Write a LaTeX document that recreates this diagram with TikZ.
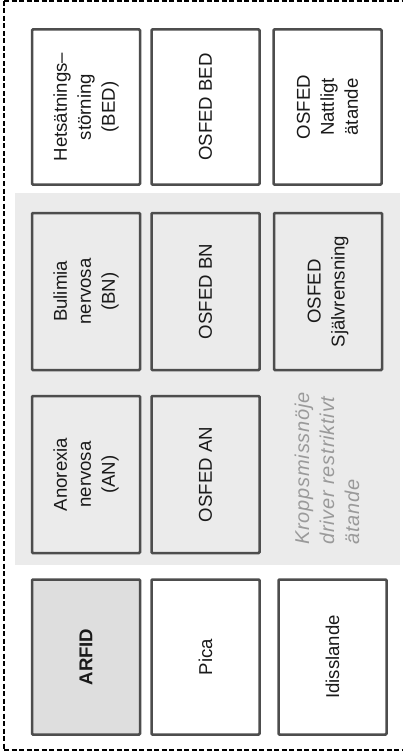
\documentclass[tikz,border=0pt]{standalone}
\usepackage{fontspec}
\setmainfont{Liberation Sans}
\newfontfamily\notefont[LetterSpace=4]{Liberation Sans}
\definecolor{boxline}{HTML}{4D4D4D}
\definecolor{bandgray}{HTML}{EBEBEB}
\definecolor{arfidgray}{HTML}{DEDEDE}
\definecolor{notegray}{HTML}{9A9A9A}
\definecolor{txt}{HTML}{1A1A1A}
\newcommand\mainsize{\fontsize{18.6}{24}\selectfont}
\begin{document}
\begin{tikzpicture}[x=1pt,y=-1pt,
  box/.style={draw=boxline, line width=2.5pt, rounded corners=1pt, rotate=90,
    align=center, inner sep=2pt, text=txt, font=\mainsize,
    minimum width=155pt, minimum height=108pt},
  outerframe/.style={draw=black, line width=1.4pt, dash pattern=on 5pt off 2.5pt},
  band/.style={fill=bandgray, draw=none},
  note/.style={rotate=90, align=left, inner sep=0pt, text=notegray,
    font=\notefont\itshape\fontsize{20}{25}\selectfont}]
\useasboundingbox (0,0) rectangle (405,754);
\coordinate (tl) at (4,1);
\coordinate (bl) at (4,750);
\coordinate (tr) at (403,1);
\coordinate (br) at (403,750);
\draw[outerframe] (tl) -- (tr);
\draw[outerframe] (tl) -- (bl);
\draw[outerframe] (bl) -- (br);
\fill[band] (15,193) rectangle (400,565);
% row 1
\node[box, fill=white] (bed) at (86,107) {Hetsätnings–\\störning\\(BED)};
\node[box, fill=white] (osfedbed) at (205.5,107) {OSFED BED};
\node[box, fill=white] (natt) at (327.5,107) {OSFED\\Nattligt\\ätande};
% row 2
\node[box, fill=bandgray, minimum width=157pt] (bn) at (86,291.5) {Bulimia\\nervosa\\(BN)};
\node[box, fill=bandgray, minimum width=157pt] (osfedbn) at (205.5,291.5) {OSFED BN};
\node[box, fill=bandgray, minimum width=157pt] (sjalv) at (328,291.5) {OSFED\\Självrensning};
% row 3
\node[box, fill=bandgray, minimum width=157pt] (an) at (86,474.5) {Anorexia\\nervosa\\(AN)};
\node[box, fill=bandgray, minimum width=157pt] (osfedan) at (205.5,474.5) {OSFED AN};
\node[note, anchor=west] (kropp) at (327,545) {Kroppsmissnöje\\driver restriktivt\\ätande};
% row 4
\node[box, fill=arfidgray, font=\bfseries\mainsize] (arfid) at (86,657) {ARFID};
\node[box, fill=white] (pica) at (205.5,657) {Pica};
\node[box, fill=white] (idiss) at (332.5,657) {Idisslande};
\end{tikzpicture}
\end{document}
